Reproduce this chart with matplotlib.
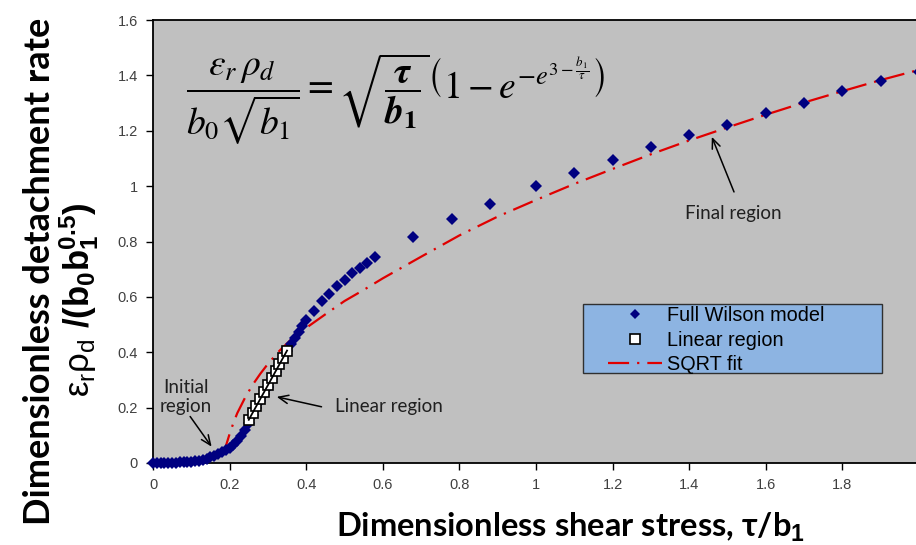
import matplotlib
matplotlib.use("Agg")
import matplotlib.pyplot as plt
from matplotlib.ticker import FixedLocator, FuncFormatter
from matplotlib.patches import Rectangle

# ---------------- data ----------------
wilson_x = [0.00, 0.01, 0.02, 0.03, 0.04, 0.05, 0.06, 0.07, 0.08, 0.09,
            0.10, 0.11, 0.12, 0.13, 0.14, 0.15, 0.16, 0.17, 0.18, 0.19,
            0.20, 0.21, 0.22, 0.23, 0.24, 0.25, 0.26, 0.27, 0.28, 0.29,
            0.30, 0.31, 0.32, 0.33, 0.34, 0.35, 0.36, 0.37, 0.38, 0.39,
            0.40, 0.42, 0.44, 0.46, 0.48, 0.50, 0.52, 0.54, 0.56, 0.58,
            0.68, 0.78, 0.88, 1.00, 1.10, 1.20, 1.30, 1.40, 1.50, 1.60,
            1.70, 1.80, 1.90, 2.00]
wilson_y = [0.000, 0.000, 0.000, 0.000, 0.000, 0.001, 0.001, 0.002, 0.003, 0.004,
            0.005, 0.007, 0.009, 0.012, 0.016, 0.020, 0.025, 0.031, 0.038, 0.046,
            0.055, 0.066, 0.080, 0.097, 0.120, 0.146, 0.172, 0.198, 0.224, 0.250,
            0.276, 0.302, 0.328, 0.354, 0.380, 0.404, 0.428, 0.450, 0.472, 0.494,
            0.516, 0.550, 0.584, 0.612, 0.638, 0.662, 0.686, 0.704, 0.724, 0.743,
            0.815, 0.880, 0.937, 1.000, 1.049, 1.096, 1.141, 1.183, 1.221, 1.265,
            1.301, 1.342, 1.378, 1.413]

linear_x = [0.25, 0.26, 0.27, 0.28, 0.29, 0.30, 0.31, 0.32, 0.33, 0.34, 0.35]
linear_y = [0.156, 0.181, 0.206, 0.231, 0.256, 0.281, 0.306, 0.331, 0.356, 0.381, 0.406]

sqrt_x = [0.185, 0.19, 0.20, 0.21, 0.22, 0.24, 0.26, 0.28, 0.30, 0.33, 0.36,
          0.40, 0.45, 0.50, 0.55, 0.60, 0.70, 0.80, 0.90, 1.00, 1.10, 1.20,
          1.30, 1.40, 1.50, 1.60, 1.70, 1.80, 1.90, 2.00]
sqrt_y = [0.030, 0.060, 0.105, 0.145, 0.180, 0.235, 0.282, 0.322, 0.358, 0.405, 0.445,
          0.488, 0.537, 0.585, 0.625, 0.667, 0.745, 0.822, 0.890, 0.950, 1.008, 1.062,
          1.115, 1.165, 1.212, 1.258, 1.302, 1.343, 1.383, 1.420]

x_ticks = [0, 0.2, 0.4, 0.6, 0.8, 1.0, 1.2, 1.4, 1.6, 1.8, 2.0]
y_ticks = [0, 0.2, 0.4, 0.6, 0.8, 1.0, 1.2, 1.4, 1.6]

series_labels = ["Full Wilson model", "Linear region", "SQRT fit"]

# ---------------- style ----------------
plt.rcParams["mathtext.rm"] = "Liberation Sans"
plt.rcParams["mathtext.it"] = "Liberation Sans:italic"
plt.rcParams["mathtext.bf"] = "Liberation Sans:bold"

W, H = 916, 545
fig = plt.figure(figsize=(W / 100, H / 100), dpi=100)
fig.patch.set_facecolor("white")

left_px, right_px, top_px, bottom_px = 153, 919, 20, 463
ax = fig.add_axes([left_px / W, 1 - bottom_px / H,
                   (right_px - left_px) / W, (bottom_px - top_px) / H])
ax.set_facecolor("#c0c0c0")
ax.set_xlim(0, 2)
ax.set_ylim(0, 1.6)

for s in ("left", "bottom", "top"):
    ax.spines[s].set_linewidth(1.3)
    ax.spines[s].set_color("black")
ax.spines["right"].set_visible(False)

tick_font = ["Liberation Sans Narrow", "Liberation Sans", "DejaVu Sans"]
ax.xaxis.set_major_locator(FixedLocator(x_ticks))
ax.yaxis.set_major_locator(FixedLocator(y_ticks))
fmt = FuncFormatter(lambda v, p: "%g" % v)
ax.xaxis.set_major_formatter(fmt)
ax.yaxis.set_major_formatter(fmt)
ax.tick_params(axis="both", direction="out", length=5, width=1.0,
               colors="black", labelcolor="#404040", labelsize=10.5)
ax.tick_params(axis="x", pad=6)
ax.tick_params(axis="y", pad=6)
for lab in ax.get_xticklabels() + ax.get_yticklabels():
    lab.set_family(tick_font)
ax.tick_params(top=False, right=False)

# ---------------- marks ----------------
ax.plot(wilson_x, wilson_y, linestyle="none", marker="D", markersize=6.3,
        color="#000080", markeredgewidth=0, label=series_labels[0], zorder=3,
        clip_on=False)
ax.plot(linear_x, linear_y, linestyle="none", marker="s", markersize=7.0,
        markerfacecolor="white", markeredgecolor="black",
        markeredgewidth=1.2, label=series_labels[1], zorder=5)
ax.plot([linear_x[0], linear_x[-1]], [linear_y[0], linear_y[-1]],
        color="black", lw=1.3, zorder=6)
red, = ax.plot(sqrt_x, sqrt_y, color="#e00000", lw=1.6,
               label=series_labels[2], zorder=2.9)
red.set_dashes([9.5, 3.6, 1.0, 3.6])

# ---------------- legend ----------------
box = Rectangle((583 / W, 1 - 373 / H), (882 - 583) / W, (373 - 304) / H,
                transform=fig.transFigure, facecolor="#8db4e2",
                edgecolor="#303030", lw=1.0, zorder=7)
ax.add_patch(box)
leg = ax.legend(loc="upper left",
                bbox_to_anchor=(607 / W, 1 - 305 / H),
                bbox_transform=fig.transFigure,
                prop={"family": "Liberation Sans", "size": 14.3},
                frameon=False, borderaxespad=0, borderpad=0.05,
                labelspacing=0.28, handlelength=2.7, handletextpad=0.25)
leg.set_zorder(8)
handles = leg.legend_handles
handles[0].set_markersize(5.0)

# ---------------- annotations ----------------
ann_font = ["Lato", "DejaVu Sans"]
arrow = dict(arrowstyle="->,head_length=0.7,head_width=0.3", lw=1.1,
             color="black", shrinkA=0, shrinkB=0)
ax.annotate("", xy=(0.153, 0.059), xytext=(0.097, 0.168), arrowprops=arrow)
ax.text(0.085, 0.238, "Initial\nregion", ha="center", va="center",
        family=ann_font, fontsize=13.5, color="#202020", linespacing=1.1)
ax.annotate("", xy=(0.323, 0.239), xytext=(0.440, 0.203), arrowprops=arrow)
ax.text(0.475, 0.203, "Linear region", ha="left", va="center",
        family=ann_font, fontsize=13.5, color="#202020")
ax.annotate("", xy=(1.459, 1.178), xytext=(1.517, 0.979), arrowprops=arrow)
ax.text(1.515, 0.900, "Final region", ha="center", va="center",
        family=ann_font, fontsize=13.5, color="#202020")

# formula
fig.text(186 / W, 1 - 99 / H,
         r"$\dfrac{\varepsilon_r\,\rho_d}{b_0\sqrt{b_1}}=\sqrt{\dfrac{\boldsymbol{\tau}}{\boldsymbol{b}_\mathbf{1}}}\left(1-e^{-e^{3-\frac{b_1}{\tau}}}\right)$",
         ha="left", va="center", fontsize=27, math_fontfamily="stix")

# ---------------- axis titles ----------------
title_font = ["Lato", "DejaVu Sans"]
fig.text(571 / W, 1 - 527 / H, r"Dimensionless shear stress, τ/b$_\mathbf{1}$",
         ha="center", va="center", family=title_font, fontweight="bold",
         fontsize=23.5, math_fontfamily="custom")
fig.text(40 / W, 1 - 271 / H, "Dimensionless detachment rate",
         ha="center", va="center", rotation=90, family=title_font,
         fontweight="bold", fontsize=26)
fig.text(79 / W, 1 - 300 / H,
         r"$\mathrm{ε_rρ_d}\ \mathbf{/(b_0b_1^{0.5})}$",
         ha="center", va="center", rotation=90, fontsize=25,
         math_fontfamily="custom")

fig.savefig("out.png", dpi=100)
